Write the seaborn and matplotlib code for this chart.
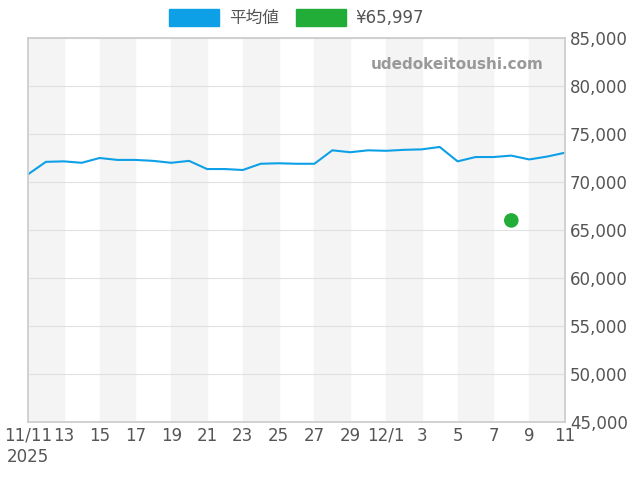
import numpy as np
import matplotlib
matplotlib.use("Agg")
import matplotlib.pyplot as plt
from matplotlib.patches import Patch
import seaborn as sns

sns.set_theme(style="white")
plt.rcParams['font.family'] = ['DejaVu Sans', 'Noto Sans CJK JP']

days = list(range(31))
avg_price = [70800, 72100, 72150, 72000, 72500, 72300, 72300, 72200, 72000, 72200,
             71350, 71350, 71250, 71900, 71950, 71900, 71900, 73300, 73100, 73300,
             73250, 73350, 73400, 73650, 72150, 72600, 72600, 72750, 72350, 72650, 73050]
point_day = [27]
point_price = [65997]
tick_pos = list(range(0, 31, 2))
tick_labels = ["11/11\n2025", "13", "15", "17", "19", "21", "23", "25", "27", "29",
               "12/1", "3", "5", "7", "9", "11"]

fig = plt.figure(figsize=(6.4, 4.8), dpi=100)
ax = fig.add_axes([28/640, 58/480, 537/640, 384/480])

for start in range(0, 30, 4):
    ax.axvspan(start, start + 2, color="#f4f4f4", zorder=0)

sns.lineplot(x=days, y=avg_price, ax=ax, color="#0ea0e6", linewidth=1.5, label="平均値")
sns.scatterplot(x=point_day, y=point_price, ax=ax, color="#22ac38", s=110,
                edgecolor="none", label="¥65,997", zorder=5)

ax.set_xlim(0, 30)
ax.set_ylim(45000, 85000)
ax.set_yticks(range(45000, 85001, 5000))
ax.set_yticklabels([f"{v:,}" for v in range(45000, 85001, 5000)])
ax.yaxis.tick_right()
ax.set_xticks(tick_pos)
ax.set_xticklabels(tick_labels)
ax.tick_params(axis="both", labelsize=12, colors="#555555", length=0)
ax.grid(axis="y", color="#e0e0e0", linewidth=0.8)
for s in ax.spines.values():
    s.set_color("#cccccc")

ax.text(0.96, 0.93, "udedokeitoushi.com", transform=ax.transAxes, ha="right",
        va="center", fontsize=11, fontweight="bold", color="#999999")

handles, labels = ax.get_legend_handles_labels()
ax.legend(handles=[Patch(color="#0ea0e6"), Patch(color="#22ac38")], labels=labels,
          loc="lower center", bbox_to_anchor=(0.5, 0.99), ncol=2, frameon=False,
          fontsize=12, handlelength=3, handleheight=1.2, columnspacing=1.0,
          handletextpad=0.6, labelcolor="#555555")

fig.savefig("out.png", dpi=100)
